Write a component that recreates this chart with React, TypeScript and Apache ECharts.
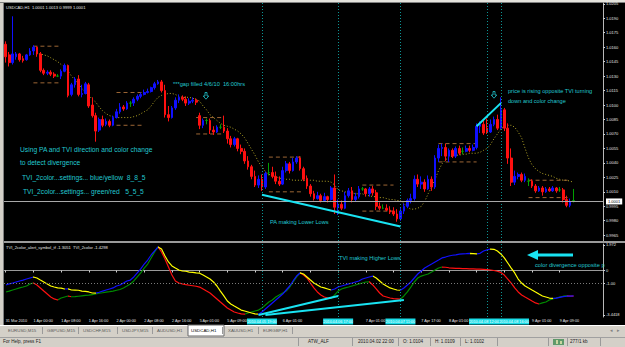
import React, { useEffect, useRef } from 'react';
import * as echarts from 'echarts';

// ---------- DATA ----------
// trading sessions: [date, short label, first hour, last hour]
const sessions: [string, string, number, number][] = [
  ['2010.03.31', '31 Mar', 16, 23],
  ['2010.04.01', '1 Apr', 0, 23],
  ['2010.04.02', '2 Apr', 0, 23],
  ['2010.04.05', '5 Apr', 1, 23],
  ['2010.04.06', '6 Apr', 0, 23],
  ['2010.04.07', '7 Apr', 0, 23],
  ['2010.04.08', '8 Apr', 0, 23],
  ['2010.04.09', '9 Apr', 0, 13],
];
const emptySlots = 8;

// [open, close, low, high]
const ohlc: number[][] = [
  [1.0163,1.0150,1.0144,1.0166],[1.0152,1.0144,1.0140,1.0155],[1.0144,1.0153,1.0142,1.0192],[1.0150,1.0153,1.0147,1.0155],
  [1.0153,1.0147,1.0145,1.0154],[1.0148,1.0146,1.0144,1.0151],[1.0147,1.0152,1.0146,1.0153],[1.0152,1.0156,1.0151,1.0159],
  [1.0156,1.0160,1.0152,1.0162],[1.0160,1.0153,1.0150,1.0161],[1.0153,1.0136,1.0134,1.0155],[1.0136,1.0133,1.0131,1.0138],
  [1.0133,1.0134,1.0131,1.0136],[1.0134,1.0132,1.0130,1.0136],[1.0132,1.0130,1.0128,1.0134],[1.0130,1.0130,1.0129,1.0132],
  [1.0130,1.0135,1.0127,1.0137],[1.0135,1.0141,1.0134,1.0143],[1.0141,1.0110,1.0108,1.0142],[1.0111,1.0121,1.0109,1.0123],
  [1.0121,1.0127,1.0118,1.0129],[1.0127,1.0111,1.0109,1.0131],[1.0111,1.0112,1.0108,1.0121],[1.0112,1.0122,1.0111,1.0124],
  [1.0121,1.0099,1.0097,1.0123],[1.0100,1.0089,1.0087,1.0108],[1.0089,1.0073,1.0062,1.0092],[1.0074,1.0085,1.0072,1.0087],
  [1.0085,1.0079,1.0077,1.0089],[1.0080,1.0083,1.0078,1.0086],[1.0083,1.0079,1.0077,1.0085],[1.0079,1.0087,1.0078,1.0089],
  [1.0087,1.0093,1.0086,1.0096],[1.0093,1.0098,1.0091,1.0102],[1.0098,1.0096,1.0094,1.0100],[1.0096,1.0102,1.0095,1.0104],
  [1.0102,1.0102,1.0098,1.0104],[1.0102,1.0106,1.0099,1.0108],[1.0106,1.0109,1.0104,1.0111],[1.0109,1.0111,1.0107,1.0113],
  [1.0111,1.0113,1.0110,1.0116],[1.0113,1.0114,1.0112,1.0117],[1.0114,1.0118,1.0113,1.0119],[1.0118,1.0122,1.0116,1.0124],
  [1.0122,1.0124,1.0121,1.0126],[1.0124,1.0115,1.0113,1.0126],[1.0115,1.0090,1.0087,1.0121],[1.0090,1.0087,1.0083,1.0099],
  [1.0087,1.0097,1.0086,1.0099],[1.0097,1.0105,1.0095,1.0108],[1.0105,1.0108,1.0102,1.0111],[1.0108,1.0106,1.0104,1.0110],
  [1.0106,1.0102,1.0099,1.0109],[1.0102,1.0104,1.0100,1.0107],[1.0104,1.0105,1.0102,1.0108],[1.0105,1.0103,1.0100,1.0107],
  [1.0089,1.0079,1.0075,1.0092],[1.0079,1.0084,1.0076,1.0086],[1.0084,1.0084,1.0080,1.0086],[1.0084,1.0074,1.0070,1.0086],
  [1.0074,1.0072,1.0069,1.0078],[1.0072,1.0077,1.0071,1.0079],[1.0077,1.0077,1.0075,1.0080],[1.0077,1.0073,1.0071,1.0089],
  [1.0073,1.0065,1.0060,1.0076],[1.0065,1.0059,1.0056,1.0068],[1.0059,1.0065,1.0057,1.0067],[1.0065,1.0055,1.0052,1.0066],
  [1.0055,1.0052,1.0049,1.0059],[1.0052,1.0042,1.0039,1.0055],[1.0042,1.0036,1.0033,1.0047],[1.0036,1.0026,1.0023,1.0038],
  [1.0026,1.0017,1.0015,1.0032],[1.0017,1.0023,1.0014,1.0027],[1.0023,1.0015,1.0011,1.0028],[1.0015,1.0029,1.0013,1.0031],
  [1.0030,1.0030,1.0027,1.0040],[1.0030,1.0026,1.0024,1.0036],[1.0026,1.0021,1.0018,1.0031],[1.0021,1.0018,1.0016,1.0026],
  [1.0018,1.0032,1.0017,1.0036],[1.0032,1.0039,1.0030,1.0042],[1.0039,1.0032,1.0029,1.0041],[1.0032,1.0041,1.0031,1.0045],
  [1.0041,1.0045,1.0039,1.0047],[1.0045,1.0034,1.0032,1.0047],[1.0034,1.0023,1.0021,1.0036],[1.0024,1.0016,1.0013,1.0027],
  [1.0016,1.0008,1.0005,1.0018],[1.0008,1.0003,1.0001,1.0011],[1.0003,1.0006,1.0002,1.0010],[1.0006,1.0001,0.9999,1.0008],
  [1.0001,1.0005,1.0000,1.0009],[1.0005,1.0002,0.9999,1.0006],[1.0002,1.0014,1.0001,1.0016],[1.0014,0.9994,0.9987,1.0028],
  [0.9994,0.9997,0.9986,1.0002],[0.9997,0.9993,0.9991,1.0001],[0.9993,1.0006,0.9992,1.0010],[1.0006,1.0011,1.0004,1.0014],
  [1.0011,1.0002,0.9999,1.0015],[1.0002,1.0005,1.0000,1.0009],[1.0005,1.0013,1.0003,1.0016],[1.0013,1.0013,1.0011,1.0015],
  [1.0013,1.0008,1.0005,1.0014],[1.0008,1.0013,1.0005,1.0015],[1.0013,1.0009,1.0006,1.0016],[1.0009,0.9995,0.9991,1.0012],
  [0.9995,0.9993,0.9991,0.9999],[0.9993,0.9993,0.9992,0.9997],[0.9993,0.9991,0.9990,0.9997],[0.9991,0.9989,0.9987,0.9995],
  [0.9990,0.9987,0.9985,0.9994],[0.9987,0.9982,0.9979,0.9992],[0.9982,0.9990,0.9980,0.9994],[0.9990,0.9995,0.9987,0.9998],
  [0.9995,1.0001,0.9993,1.0003],[1.0001,1.0003,0.9998,1.0008],[1.0003,1.0023,1.0001,1.0027],[1.0023,1.0018,1.0015,1.0028],
  [1.0018,1.0020,1.0013,1.0026],[1.0020,1.0013,1.0010,1.0023],[1.0013,1.0023,1.0012,1.0027],[1.0023,1.0015,1.0011,1.0026],
  [1.0015,1.0045,1.0013,1.0048],[1.0045,1.0055,1.0041,1.0059],[1.0055,1.0056,1.0047,1.0060],[1.0056,1.0047,1.0042,1.0060],
  [1.0047,1.0053,1.0041,1.0055],[1.0053,1.0047,1.0045,1.0055],[1.0047,1.0055,1.0045,1.0057],[1.0055,1.0050,1.0048,1.0058],
  [1.0052,1.0052,1.0049,1.0056],[1.0052,1.0055,1.0051,1.0058],[1.0055,1.0053,1.0051,1.0058],[1.0053,1.0056,1.0052,1.0059],
  [1.0056,1.0078,1.0054,1.0081],[1.0078,1.0080,1.0071,1.0083],[1.0080,1.0071,1.0069,1.0085],[1.0076,1.0072,1.0070,1.0086],
  [1.0072,1.0080,1.0071,1.0085],[1.0080,1.0085,1.0078,1.0088],[1.0085,1.0076,1.0074,1.0090],[1.0076,1.0095,1.0075,1.0108],
  [1.0095,1.0076,1.0073,1.0097],[1.0076,1.0045,1.0039,1.0081],[1.0045,1.0020,1.0016,1.0055],[1.0020,1.0026,1.0017,1.0032],
  [1.0026,1.0028,1.0023,1.0030],[1.0028,1.0022,1.0020,1.0030],[1.0022,1.0026,1.0020,1.0029],[1.0021,1.0021,1.0016,1.0024],
  [1.0021,1.0016,1.0014,1.0023],[1.0016,1.0011,1.0009,1.0018],[1.0011,1.0014,1.0010,1.0016],[1.0014,1.0010,1.0006,1.0016],
  [1.0010,1.0013,1.0009,1.0015],[1.0013,1.0011,1.0010,1.0015],[1.0011,1.0014,1.0010,1.0016],[1.0014,1.0011,1.0009,1.0015],
  [1.0012,1.0012,1.0010,1.0015],[1.0012,1.0002,0.9999,1.0014],[1.0002,0.9996,0.9994,1.0006],[0.9996,1.0000,0.9994,1.0003],
  [1.0001,1.0001,0.9999,1.0013],
];
const dojiBars = [15, 36, 58, 62, 76, 103, 109, 132, 151, 160, 164];

// shifted moving average (dotted yellow)
const maValues: (number | null)[] = [
  null,null,null,null,null,null,null,1.0153,1.0153,1.0153,1.0153,1.0152,1.0151,1.0149,1.0147,1.0145,
  1.0142,1.0140,1.0135,1.0130,1.0126,1.0122,1.0117,1.0113,1.0110,1.0106,1.0103,1.0098,1.0094,1.0091,
  1.0089,1.0088,1.0087,1.0087,1.0087,1.0087,1.0087,1.0088,1.0089,1.0091,1.0093,1.0095,1.0099,1.0104,
  1.0108,1.0110,1.0111,1.0112,1.0112,1.0111,1.0109,1.0108,1.0108,1.0108,1.0107,1.0106,1.0104,1.0099,
  1.0095,1.0090,1.0087,1.0084,1.0081,1.0079,1.0078,1.0077,1.0075,1.0073,1.0070,1.0066,1.0060,1.0054,
  1.0048,1.0041,1.0036,1.0031,1.0028,1.0027,1.0026,1.0024,1.0024,1.0023,1.0023,1.0022,1.0022,1.0022,
  1.0022,1.0022,1.0022,1.0022,1.0021,1.0021,1.0021,1.0021,1.0020,1.0017,1.0012,1.0011,1.0010,1.0009,
  1.0009,1.0008,1.0008,1.0008,1.0006,1.0006,1.0005,1.0005,1.0004,1.0004,1.0003,1.0002,1.0002,1.0001,
  1.0001,0.9998,0.9994,0.9992,0.9992,0.9993,0.9995,1.0000,1.0008,1.0015,1.0023,1.0032,1.0039,1.0043,
  1.0046,1.0047,1.0048,1.0048,1.0049,1.0049,1.0050,1.0050,1.0050,1.0051,1.0053,1.0055,1.0059,1.0065,
  1.0070,1.0075,1.0078,1.0079,1.0079,1.0077,1.0072,1.0066,1.0055,1.0045,1.0038,1.0034,1.0031,1.0029,
  1.0028,1.0027,1.0026,1.0024,1.0023,1.0022,1.0022,1.0021,1.0020,
];

// TVI_2color (blue rising / yellow falling), 8_8_5
const tviSlow: number[] = [
  -1.12,-1.04,-0.97,-0.89,-0.81,-0.74,-0.66,-0.58,-0.50,-0.58,
  -0.74,-0.89,-1.04,-1.20,-1.28,-1.35,-1.36,-1.43,-1.42,-1.51,
  -1.52,-1.53,-1.59,-1.61,-1.66,-1.74,-1.75,-1.68,-1.59,-1.51,
  -1.43,-1.35,-1.20,-1.12,-0.97,-0.81,-0.74,-0.50,-0.19,0.12,
  0.50,0.81,1.20,1.51,1.82,1.66,1.12,0.66,0.35,0.19,
  0.04,-0.04,-0.06,-0.12,-0.14,-0.19,-0.21,-0.35,-0.50,-0.66,
  -0.89,-1.20,-1.59,-1.97,-2.36,-2.59,-2.75,-2.90,-3.06,-3.13,
  -3.21,-3.29,-3.36,-3.38,-3.21,-2.98,-2.75,-2.51,-2.28,-2.05,
  -1.82,-1.51,-1.20,-0.81,-0.43,-0.19,-0.27,-0.50,-0.74,-0.97,
  -1.12,-1.28,-1.35,-1.43,-1.51,-1.43,-1.28,-1.20,-1.12,-1.04,
  -0.97,-0.89,-0.81,-0.66,-0.58,-0.50,-0.43,-0.58,-0.81,-1.04,
  -1.20,-1.35,-1.43,-1.51,-1.53,-1.35,-1.12,-0.89,-0.58,-0.27,
  -0.04,0.19,0.35,0.50,0.66,0.81,0.97,1.04,1.12,1.18,
  1.21,1.26,1.28,1.30,1.33,1.31,1.29,1.33,1.51,1.59,
  1.66,1.64,1.51,1.28,0.97,0.58,0.19,-0.19,-0.66,-0.97,
  -1.20,-1.35,-1.51,-1.66,-1.82,-1.97,-2.05,-2.13,-2.15,-2.14,
  -2.08,-2.02,-1.99,-1.98,-1.97,
];
// TVI_2color_alert (green rising / red falling), 5_5_5
const tviFast: number[] = [
  -1.66,-1.59,-1.51,-1.43,-1.35,-1.28,-1.20,-1.04,-0.97,-1.12,
  -1.35,-1.59,-1.82,-2.05,-2.20,-2.28,-2.13,-2.05,-1.97,-2.03,
  -2.02,-1.99,-1.96,-1.93,-1.90,-1.86,-1.82,-1.76,-1.72,-1.68,
  -1.64,-1.59,-1.53,-1.47,-1.35,-1.20,-1.04,-0.81,-0.50,-0.19,
  0.19,0.50,0.97,1.43,1.82,1.43,0.89,0.27,-0.35,-0.81,
  -0.97,-1.04,-1.10,-1.14,-1.18,-1.22,-1.28,-1.43,-1.59,-1.74,
  -1.97,-2.20,-2.44,-2.67,-2.90,-3.06,-3.21,-3.29,-3.36,-3.38,
  -3.29,-3.21,-3.13,-3.06,-2.90,-2.67,-2.44,-2.28,-2.05,-1.89,
  -1.74,-1.59,-1.28,-0.89,-0.50,-0.19,-0.35,-0.58,-0.97,-1.35,
  -1.66,-1.89,-2.05,-2.13,-2.15,-1.89,-1.59,-1.43,-1.35,-1.28,
  -1.20,-1.12,-1.04,-0.97,-0.89,-0.87,-1.12,-1.43,-1.74,-1.97,
  -2.05,-2.13,-2.18,-2.20,-2.22,-1.97,-1.66,-1.28,-0.89,-0.58,
  -0.43,-0.35,-0.27,-0.12,0.04,0.19,0.27,0.25,0.21,0.19,
  0.17,0.16,0.15,0.14,0.13,0.12,0.11,0.10,0.09,0.07,
  0.04,0.00,-0.06,-0.15,-0.35,-0.66,-0.97,-1.35,-1.66,-1.89,
  -2.05,-2.20,-2.36,-2.51,-2.59,-2.51,-2.44,-2.28,-2.20,-2.13,
  -2.05,-1.99,-1.97,-1.98,-1.99,
];

// session range boxes: [firstBar, lastBar, top, bottom]
const rangeBoxes: number[][] = [
  [8, 16, 1.0161, 1.0123],
  [32, 40, 1.0113, 1.0079],
  [55, 63, 1.0087, 1.0070],
  [76, 86, 1.0046, 1.0010],
  [103, 112, 1.0017, 0.9990],
  [125, 136, 1.0060, 1.0041],
  [151, 163, 1.0022, 1.0004],
];
const verticalLineBars = [74, 96, 114, 139, 143];
const priceTrendLines: number[][][] = [
  [[74, 1.0007], [114, 0.9974]],
  [[136, 1.0078], [143, 1.0102]],
];
const tviTrendLines: number[][][] = [
  [[73, -3.44], [96, -1.97]],
  [[75, -3.44], [115, -2.28]],
];
const priceTicks = [0.9965, 0.998, 0.9995, 1.001, 1.0025, 1.004, 1.0055, 1.007, 1.0085, 1.01, 1.0115, 1.013, 1.0145, 1.016, 1.0175, 1.019, 1.0205];
const tviTicks = [1.972, 0, -1, -3.4418];
const tviTickLabels = ['1.972', '0', '-1.00', '-3.4418'];
const tviLevel = -1;
const lastPrice = 1.0001;

const chartTitle = 'USDCAD,H1  1.0001 1.0013 0.9999 1.0001';
const indicatorTitle = 'TVI_2color_alert_symbol_tf -1.3051  TVI_2color -1.4298';
const annotationTexts = [
  '***gap filled 4/6/10  16:00hrs',
  'price is rising opposite TVI turning',
  'down and color change',
  'Using PA and TVI direction and color change',
  'to detect divergence',
  'TVI_2color...settings... blue/yellow  8_8_5',
  'TVI_2color...settings... green/red   5_5_5',
  'PA making Lower Lows',
  'TVI making Higher Lows',
  'color divergence opposite p',
];
const tabs = ['EURUSD,M15', 'GBPUSD,M15', 'USDCHF,M15', 'USDJPY,M15', 'AUDUSD,H1', 'USDCAD,H1', 'XAUUSD,H1', 'EURGBP,H1'];
const activeTab = 5;
const statusTexts = ['For Help, press F1', 'ATW_ALF', '2010.04.02 22:00', 'O: 1.0104', 'H: 1.0109', 'L: 1.0102', '277/1 kb'];

// ---------- LAYOUT / STYLE ----------
const annotationLayout = [
  [173, 84, 5.7], [508, 91, 5.6], [508, 101, 5.6], [20, 149, 6.7], [20, 162, 6.7],
  [22, 177, 6.7], [23, 191, 6.7], [270, 222, 5.7], [339, 258, 5.7], [535, 265, 5.7],
];
const tabX = [8, 47, 83, 122, 157, 191, 228, 263];
const tabSepX = [42, 78, 117, 152, 187, 222, 258, 292];
const statusX = [3, 308, 358, 403, 435, 465, 570];
const statusSepX = [298, 352, 398, 430, 460, 497, 548, 567, 600];
const FONT = 'Liberation Sans';
const BLUE = '#1010ff', RED = '#ff1010', GREEN = '#00a000', YELLOW = '#ffff00', DGREEN = '#008a00';
const CYAN = '#19e3f2', NOTE = '#22c8d0', VLINE = '#0c9595', BROWN = '#9c6634';
const LABEL_W_PX = 19.6;  // width of a time label
const BOX_W_PX = 30;      // width of a vertical-line date box

function dirPieces(v: number[], up: string, down: string) {
  const pieces: any[] = [];
  let runStart = 0;
  let runColor: string | null = null;
  for (let i = 1; i < v.length; i++) {
    const c = v[i] > v[i - 1] ? up : v[i] < v[i - 1] ? down : (runColor || up);
    if (runColor === null) runColor = c;
    else if (c !== runColor) {
      pieces.push({ gt: runStart, lte: i - 1, color: runColor });
      runStart = i - 1;
      runColor = c;
    }
  }
  pieces.push({ gt: runStart, lte: v.length + emptySlots, color: runColor });
  pieces[0] = { gte: 0, lte: pieces[0].lte, color: pieces[0].color };
  return pieces;
}

export default function App() {
  const ref = useRef<HTMLDivElement>(null);
  useEffect(() => {
    const el = ref.current!;
    const chart = echarts.init(el, null, { renderer: 'svg', width: 625, height: 347 });

    const categories: string[] = [];
    const shortLabels: string[] = [];
    sessions.forEach(([date, short, h0, h1]) => {
      for (let h = h0; h <= h1; h++) {
        const hh = String(h).padStart(2, '0');
        categories.push(`${date} ${hh}:00`);
        shortLabels.push(`${short} ${hh}:00`);
      }
    });
    shortLabels[0] = '31 Mar 2010';
    for (let k = 0; k < emptySlots; k++) { categories.push(`#${k}`); shortLabels.push(''); }
    const nBars = ohlc.length;
    const showTick = (i: number) => i % 8 === 0 && i < nBars;

    const candleData = ohlc.map((d, i) =>
      dojiBars.includes(i)
        ? { value: d, itemStyle: { color: GREEN, color0: GREEN, borderColor: GREEN, borderColor0: GREEN } }
        : d);

    const series: any[] = [];
    series.push({
      type: 'candlestick', xAxisIndex: 0, yAxisIndex: 0, data: candleData, barWidth: 2.2,
      itemStyle: { color: BLUE, color0: RED, borderColor: BLUE, borderColor0: RED, borderWidth: 1 },
      markLine: {
        silent: true, symbol: 'none',
        data: [
          ...verticalLineBars.map((b) => ({ xAxis: categories[b], lineStyle: { color: VLINE, type: [1, 2], width: 1 }, label: { show: false } })),
          {
            yAxis: lastPrice, lineStyle: { color: '#a8a8a8', type: 'solid', width: 1 },
            label: { show: true, position: 'end', distance: 3, formatter: lastPrice.toFixed(4), color: '#000', backgroundColor: '#fff', fontSize: 4, fontFamily: FONT, padding: [1, 2] },
          },
        ],
      },
      z: 3,
    });
    series.push({
      type: 'line', xAxisIndex: 0, yAxisIndex: 0, data: maValues, symbol: 'none', silent: true,
      lineStyle: { color: '#b3a526', width: 1, type: [1, 2] }, z: 2,
    });
    rangeBoxes.forEach(([a, b, top, bot]) => {
      [top, bot].forEach((lvl) => series.push({
        type: 'line', xAxisIndex: 0, yAxisIndex: 0, data: [[a, lvl], [b, lvl]], symbol: 'none', silent: true,
        lineStyle: { color: BROWN, width: 1, type: [4, 3] }, z: 2,
      }));
    });
    priceTrendLines.forEach((ln) => series.push({
      type: 'line', xAxisIndex: 0, yAxisIndex: 0, data: ln, symbol: 'none', silent: true,
      lineStyle: { color: CYAN, width: 2 }, z: 5,
    }));
    const fastIdx = series.length;
    series.push({
      type: 'line', xAxisIndex: 1, yAxisIndex: 1, data: tviFast, symbol: 'none', silent: true,
      lineStyle: { width: 1.2 }, z: 3,
      markLine: {
        silent: true, symbol: 'none',
        data: [
          ...verticalLineBars.map((b) => ({ xAxis: categories[b], lineStyle: { color: VLINE, type: [1, 2], width: 1 }, label: { show: false } })),
          { yAxis: tviLevel, lineStyle: { color: '#7a7a7a', type: [1, 2], width: 1 }, label: { show: false } },
        ],
      },
    });
    const slowIdx = series.length;
    series.push({
      type: 'line', xAxisIndex: 1, yAxisIndex: 1, data: tviSlow, symbol: 'none', silent: true,
      lineStyle: { width: 1.2 }, z: 4,
    });
    tviTrendLines.forEach((ln) => series.push({
      type: 'line', xAxisIndex: 1, yAxisIndex: 1, data: ln, symbol: 'none', silent: true,
      lineStyle: { color: CYAN, width: 2 }, z: 5,
    }));

    const axisFont = { fontSize: 4, fontFamily: FONT, color: '#e6e6e6' };
    const option: any = {
      animation: false,
      backgroundColor: '#d4d0c8',
      grid: [
        { left: 4, right: 22, top: 3, height: 238 },
        { left: 4, right: 22, top: 244, height: 73 },
      ],
      xAxis: [
        { type: 'category', gridIndex: 0, data: categories, show: false, boundaryGap: true },
        {
          type: 'category', gridIndex: 1, data: categories, boundaryGap: true,
          axisLine: { show: true, lineStyle: { color: '#9a9a9a' } },
          axisTick: { show: true, interval: (i: number) => showTick(i), alignWithLabel: true, length: 2, lineStyle: { color: '#cfcfcf' } },
          axisLabel: { ...axisFont, fontSize: 3.8, interval: (i: number) => showTick(i), formatter: (_v: string, i: number) => shortLabels[i], align: 'left', margin: 2 },
          splitLine: { show: false },
        },
      ],
      yAxis: [
        {
          type: 'value', gridIndex: 0, position: 'right', min: 0.9959, max: 1.02058, scale: true,
          axisLine: { show: true, lineStyle: { color: '#b8b8b8' } },
          axisTick: { show: true, length: 2, customValues: priceTicks, lineStyle: { color: '#cfcfcf' } },
          axisLabel: { ...axisFont, customValues: priceTicks, formatter: (v: number) => v.toFixed(4), margin: 3 },
          splitLine: { show: false },
        },
        {
          type: 'value', gridIndex: 1, position: 'right', min: -3.597, max: 2.049,
          axisLine: { show: true, lineStyle: { color: '#b8b8b8' } },
          axisTick: { show: true, length: 2, customValues: tviTicks, lineStyle: { color: '#cfcfcf' } },
          axisLabel: { ...axisFont, customValues: tviTicks, formatter: (v: number) => { const k = tviTicks.findIndex((t) => Math.abs(t - v) < 1e-6); return k >= 0 ? tviTickLabels[k] : ''; }, margin: 3 },
          splitLine: { show: false },
        },
      ],
      visualMap: [
        { show: false, type: 'piecewise', seriesIndex: slowIdx, dimension: 0, pieces: dirPieces(tviSlow, BLUE, YELLOW) },
        { show: false, type: 'piecewise', seriesIndex: fastIdx, dimension: 0, pieces: dirPieces(tviFast, DGREEN, RED) },
      ],
      series,
    };
    chart.setOption(option);

    const px = (b: number) => chart.convertToPixel({ xAxisIndex: 1 }, b) as number;

    // ----- date boxes of the vertical lines, and which time labels stay visible -----
    const labelIdx: number[] = [];
    for (let i = 0; i < nBars; i++) if (showTick(i)) labelIdx.push(i);
    const boxLeft = verticalLineBars.map((b) => px(b) - BOX_W_PX / 2);
    for (let k = 1; k < boxLeft.length; k++) {
      const c0 = px(verticalLineBars[k - 1]);
      const c1 = px(verticalLineBars[k]);
      if (c1 - c0 < BOX_W_PX) {
        const mid = (c0 + c1) / 2;
        let L = mid - BOX_W_PX;
        const R = mid + BOX_W_PX;
        // slide the pair right so it clears the label before it, if the label after it allows
        let shift = 0;
        labelIdx.forEach((j) => { const s = px(j), e = s + LABEL_W_PX; if (s < L && e > L) shift = Math.max(shift, e - L + 0.5); });
        const nextStart = Math.min(...labelIdx.map((j) => px(j)).filter((s) => s >= R));
        if (R + shift <= nextStart - 0.5) L += shift;
        boxLeft[k - 1] = L;
        boxLeft[k] = L + BOX_W_PX;
      }
    }
    const labelVisible = (i: number) => showTick(i) && boxLeft.every((bl) => {
      const s = px(i), e = s + LABEL_W_PX;
      return e <= bl || s >= bl + BOX_W_PX;
    });
    chart.setOption({ xAxis: [{}, { axisLabel: { interval: (i: number) => labelVisible(i) } }] });

    const txt = (text: string, x: number, y: number, size: number, fill: string, z = 20, align = 'left') => ({
      type: 'text', x, y, z, silent: true,
      style: { text, fill, fontSize: size, fontFamily: FONT, align, verticalAlign: 'middle' },
    });
    const rect = (x: number, y: number, w: number, h: number, fill: string, z = -10, stroke?: string) => ({
      type: 'rect', z, silent: true, shape: { x, y, width: w, height: h }, style: { fill, stroke: stroke || null, lineWidth: stroke ? 1 : 0 },
    });
    const line = (x1: number, y1: number, x2: number, y2: number, stroke: string, z = 30, w = 1) => ({
      type: 'line', z, silent: true, shape: { x1, y1, x2, y2 }, style: { stroke, lineWidth: w },
    });
    const downArrow = (cx: number, cy: number) => ({
      type: 'polygon', z: 20, silent: true,
      shape: { points: [[cx - 1, cy - 3.5], [cx + 1, cy - 3.5], [cx + 1, cy], [cx + 2.8, cy], [cx, cy + 3.2], [cx - 2.8, cy], [cx - 1, cy]] },
      style: { fill: 'none', stroke: NOTE, lineWidth: 0.8 },
    });

    const g: any[] = [];
    // backgrounds
    g.push(rect(4, 3, 621, 322, '#000000', -20));
    g.push(rect(0, 0, 625, 2, '#e4e2dc', -15));
    g.push(line(0, 2.5, 625, 2.5, '#808080', -14));
    g.push(line(3.5, 3, 3.5, 325, '#808080', -14));
    g.push(rect(4, 241, 621, 2, '#9a9a9a', 1));
    // titles
    g.push(txt(chartTitle, 6, 7, 4.1, '#e6e6e6'));
    g.push(txt(indicatorTitle, 6, 247, 4.1, '#e6e6e6'));
    // annotations
    annotationTexts.forEach((t, i) => {
      const [x, y, s] = annotationLayout[i];
      g.push(txt(t, x, y, s, NOTE));
    });
    g.push(downArrow(206, 96));
    g.push(downArrow(494, 95));
    g.push(line(537, 255, 573, 255, CYAN, 20, 3));
    g.push({ type: 'polygon', z: 20, silent: true, shape: { points: [[527, 255], [538, 250], [538, 260]] }, style: { fill: CYAN } });
    verticalLineBars.forEach((b, k) => {
      g.push(rect(boxLeft[k], 318.5, BOX_W_PX, 6, '#19dde8', 40 + k * 2));
      g.push(txt(categories[b], boxLeft[k] + BOX_W_PX / 2, 321.6, 3.8, '#ffffff', 41 + k * 2, 'center'));
    });
    // tab bar
    g.push(line(0, 325.5, 625, 325.5, '#ffffff', 1));
    tabs.forEach((t, i) => {
      if (i === activeTab) {
        g.push(rect(tabX[i] - 3, 325, 36, 11, '#ffffff', 2, '#6a6a6a'));
        g.push(txt(t, tabX[i], 330.5, 4.4, '#000000', 3));
      } else {
        g.push(txt(t, tabX[i], 330.5, 4.4, '#5a5a5a', 3));
      }
    });
    tabSepX.forEach((x) => g.push(line(x + 0.5, 327, x + 0.5, 334, '#9a9a9a', 2)));
    g.push(txt('◂', 610, 330, 5, '#808080', 3));
    g.push(txt('▸', 617, 330, 5, '#808080', 3));
    // status bar
    g.push(line(0, 337.5, 625, 337.5, '#a0a0a0', 1));
    statusTexts.forEach((t, i) => g.push(txt(t, statusX[i], 341.5, 4.6, '#202020', 3)));
    statusSepX.forEach((x) => g.push(line(x + 0.5, 338, x + 0.5, 346, '#9a9a9a', 2)));
    g.push(rect(553, 339, 11, 6, '#5f9a6a', 3));
    g.push(rect(556, 340, 2, 4, '#c9d6a0', 4));
    g.push(rect(560, 341, 2, 3, '#c9d6a0', 4));

    chart.setOption({ graphic: { elements: g } });
    return () => chart.dispose();
  }, []);
  return <div ref={ref} style={{ position: 'fixed', left: 0, top: 0, width: 625, height: 347 }} />;
}
